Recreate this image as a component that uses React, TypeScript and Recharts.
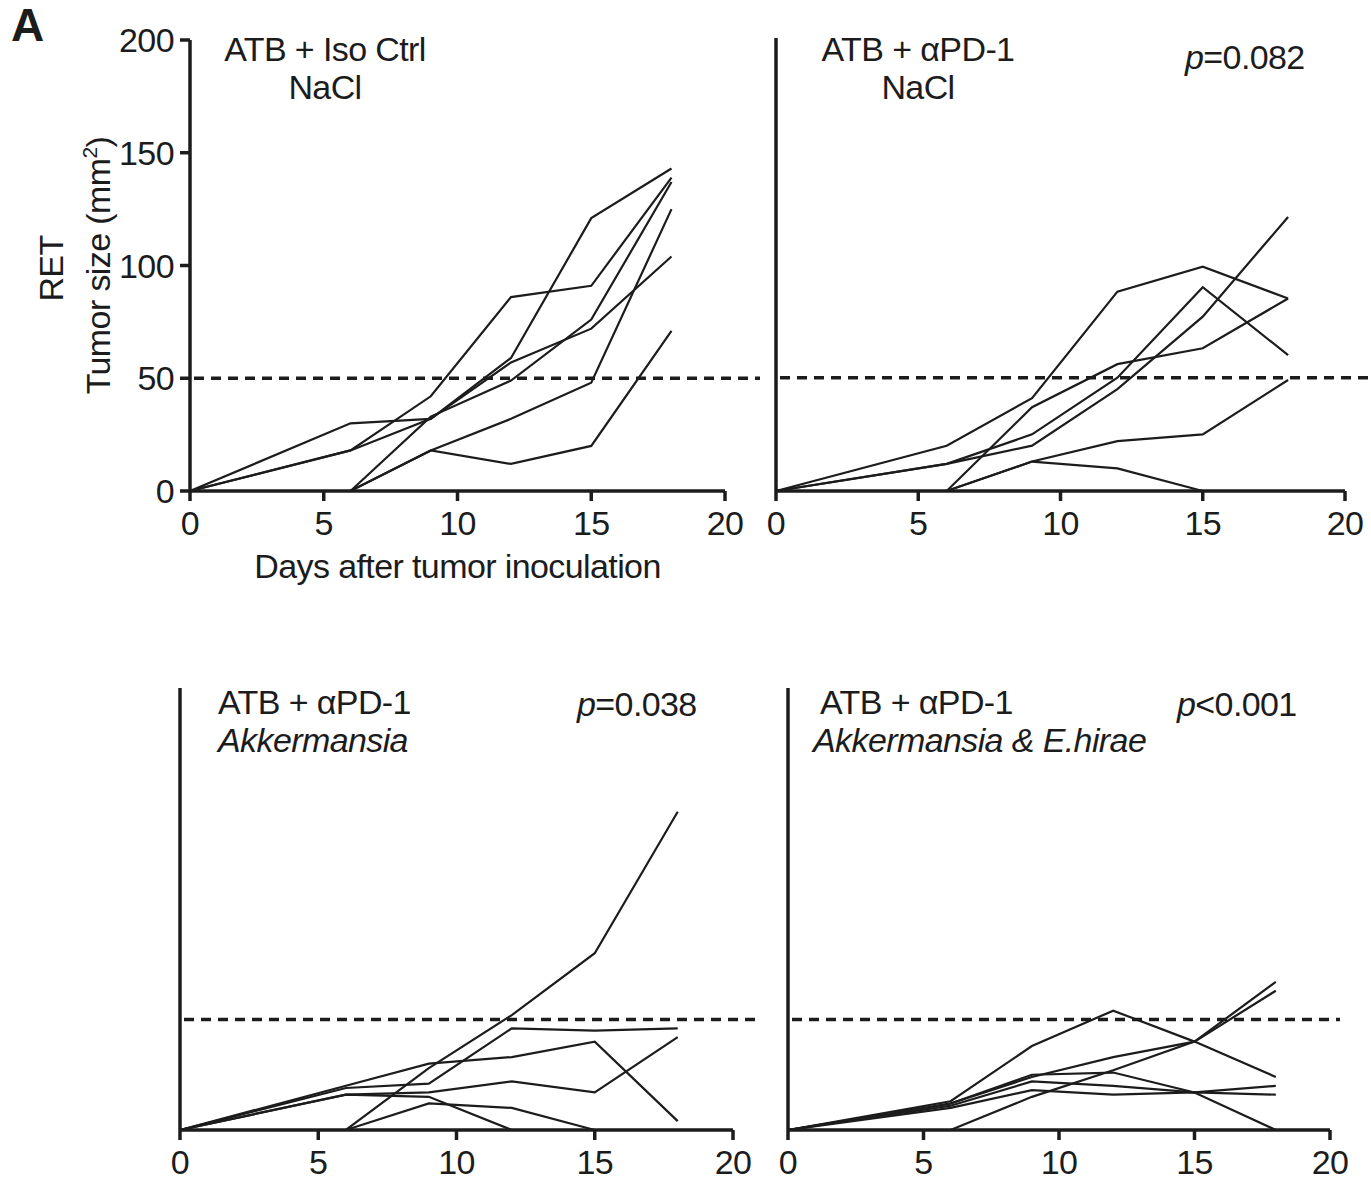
import React from 'react';
import { LineChart, Line, XAxis, YAxis, ReferenceLine } from 'recharts';

// measurement days and axis ticks
const days = [0, 6, 9, 12, 15, 18];
const xTicks = [0, 5, 10, 15, 20];
const yTicks = [0, 50, 100, 150, 200];
const threshold = 50;

// one array per mouse, tumor size (mm²) at each measurement day; null = no more data
const isoCtrlNaCl = [
  [0, 30, 32, 59, 121, 143],
  [0, 18, 42, 86, 91, 139],
  [0, 18, 32, 57, 72, 104],
  [0, 0, 33, 49, 76, 137],
  [0, 0, 18, 32, 48, 125],
  [0, 0, 18, 12, 20, 71],
];
const pd1NaCl = [
  [0, 20, 41, 88, 99, 85],
  [0, 12, 25, 50, 90, 60],
  [0, 12, 20, 45, 77, 121],
  [0, 0, 37, 56, 63, 85],
  [0, 0, 13, 22, 25, 49],
  [0, 0, 13, 10, 0, null],
];
const pd1Akk = [
  [0, 0, 28, 52, 80, 144],
  [0, 0, 12, 10, 0, null],
  [0, 19, 21, 46, 45, 46],
  [0, 20, 30, 33, 40, 4],
  [0, 16, 17, 22, 17, 42],
  [0, 16, 15, 0, null, null],
];
const pd1AkkHirae = [
  [0, 13, 38, 54, 40, 24],
  [0, 0, 15, 27, 40, 67],
  [0, 12, 24, 33, 40, 63],
  [0, 12, 25, 26, 17, 0],
  [0, 11, 22, 20, 17, 20],
  [0, 10, 18, 16, 17, 16],
];

const INK = '#1c1c1c';
const FONT = '"Liberation Sans", Arial, Helvetica, sans-serif';
const FS = 34;
const LS = -0.6;

// turn the per-mouse arrays into rows the chart can read
const toRows = (mice: (number | null)[][]) =>
  days.map((day, i) => {
    const row: Record<string, number | null> = { day };
    mice.forEach((m, j) => {
      row[`m${j}`] = m[i];
    });
    return row;
  });

// dashed 50 mm² line, pushed a bit past the plot so it runs on into the next panel
const dashed = (extend: number) => (props: any) => (
  <line
    x1={props.x1 + 4}
    y1={props.y1}
    x2={props.x2 + extend}
    y2={props.y2}
    stroke={INK}
    strokeWidth={3.5}
    strokeDasharray="10 7"
  />
);

const yTitle = (props: any) => {
  const vb = props.viewBox;
  const cy = vb.y + vb.height / 2;
  const xRet = vb.x - 57;
  const xSize = vb.x - 10;
  return (
    <g fontFamily={FONT} fontSize={FS} fill={INK} letterSpacing={LS}>
      <text x={xRet} y={cy + 3} textAnchor="middle" transform={`rotate(-90 ${xRet} ${cy + 3})`}>
        RET
      </text>
      <text x={xSize} y={cy} textAnchor="middle" transform={`rotate(-90 ${xSize} ${cy})`}>
        Tumor size (mm
        <tspan dy={-13} fontSize={21}>2</tspan>
        <tspan dy={13}>)</tspan>
      </text>
    </g>
  );
};

interface PanelProps {
  mice: (number | null)[][];
  left: number;
  top: number;
  width: number;
  height: number;
  margin: { top: number; right: number; left: number; bottom: number };
  yWidth: number;
  yLabels: boolean;
  xHeight: number;
  extend: number;
  xTitle?: string;
  withYTitle?: boolean;
}

const tickStyle = { fill: INK, fontSize: FS, fontFamily: FONT, letterSpacing: LS };

const Panel: React.FC<PanelProps> = ({
  mice, left, top, width, height, margin, yWidth, yLabels, xHeight, extend, xTitle, withYTitle,
}) => (
  <div style={{ position: 'absolute', left, top, width, height }}>
    <LineChart width={width} height={height} data={toRows(mice)} margin={margin}>
      <XAxis
        type="number"
        dataKey="day"
        domain={[0, 20]}
        ticks={xTicks}
        height={xHeight}
        tick={tickStyle}
        tickSize={10}
        tickMargin={10}
        axisLine={{ stroke: INK, strokeWidth: 3.5 }}
        tickLine={{ stroke: INK, strokeWidth: 3.5 }}
        label={
          xTitle
            ? { value: xTitle, position: 'insideBottom', offset: 3, fill: INK, fontSize: FS, fontFamily: FONT, letterSpacing: LS }
            : undefined
        }
      />
      <YAxis
        type="number"
        domain={[0, 200]}
        ticks={yTicks}
        width={yWidth}
        tick={yLabels ? tickStyle : false}
        tickSize={10}
        tickMargin={6}
        axisLine={{ stroke: INK, strokeWidth: 3.5 }}
        tickLine={{ stroke: INK, strokeWidth: 3.5 }}
        label={withYTitle ? { content: yTitle } : undefined}
      />
      <ReferenceLine y={threshold} shape={dashed(extend)} />
      {mice.map((_, j) => (
        <Line
          key={j}
          dataKey={`m${j}`}
          type="linear"
          stroke={INK}
          strokeWidth={2.2}
          dot={false}
          activeDot={false}
          connectNulls={false}
          isAnimationActive={false}
        />
      ))}
    </LineChart>
  </div>
);

const txt: React.CSSProperties = {
  position: 'absolute',
  fontFamily: FONT,
  fontSize: FS,
  letterSpacing: LS,
  lineHeight: '38px',
  color: INK,
  whiteSpace: 'nowrap',
};

const App: React.FC = () => (
  <div style={{ position: 'absolute', left: 0, top: 0, width: 1371, height: 1182, background: '#fff', overflow: 'hidden' }}>
    <Panel
      mice={isoCtrlNaCl}
      left={0}
      top={0}
      width={760}
      height={600}
      margin={{ top: 40, right: 35, left: 120, bottom: 19 }}
      yWidth={70}
      yLabels
      xHeight={90}
      extend={51}
      xTitle="Days after tumor inoculation"
      withYTitle
    />
    <Panel
      mice={pd1NaCl}
      left={760}
      top={0}
      width={611}
      height={600}
      margin={{ top: 38, right: 26, left: 0, bottom: 19 }}
      yWidth={16}
      yLabels={false}
      xHeight={90}
      extend={30}
    />
    <Panel
      mice={pd1Akk}
      left={0}
      top={650}
      width={760}
      height={532}
      margin={{ top: 38, right: 27, left: 120, bottom: 7 }}
      yWidth={60}
      yLabels={false}
      xHeight={45}
      extend={55}
    />
    <Panel
      mice={pd1AkkHirae}
      left={770}
      top={650}
      width={601}
      height={532}
      margin={{ top: 38, right: 41, left: 0, bottom: 7 }}
      yWidth={18}
      yLabels={false}
      xHeight={45}
      extend={10}
    />

    <div style={{ ...txt, left: 11, top: 2, fontSize: 46, lineHeight: '46px', letterSpacing: 0, fontWeight: 'bold' }}>A</div>

    <div style={{ ...txt, left: 175, top: 30, width: 300, textAlign: 'center' }}>
      ATB + Iso Ctrl
      <br />
      NaCl
    </div>

    <div style={{ ...txt, left: 768, top: 30, width: 300, textAlign: 'center' }}>
      ATB + αPD-1
      <br />
      NaCl
    </div>
    <div style={{ ...txt, left: 1185, top: 38 }}>
      <i>p</i>=0.082
    </div>

    <div style={{ ...txt, left: 218, top: 683 }}>
      ATB + αPD-1
      <br />
      <i>Akkermansia</i>
    </div>
    <div style={{ ...txt, left: 577, top: 685 }}>
      <i>p</i>=0.038
    </div>

    <div style={{ ...txt, left: 820, top: 683 }}>ATB + αPD-1</div>
    <div style={{ ...txt, left: 813, top: 721 }}>
      <i>Akkermansia &amp; E.hirae</i>
    </div>
    <div style={{ ...txt, left: 1177, top: 685 }}>
      <i>p</i>&lt;0.001
    </div>
  </div>
);

export default App;
